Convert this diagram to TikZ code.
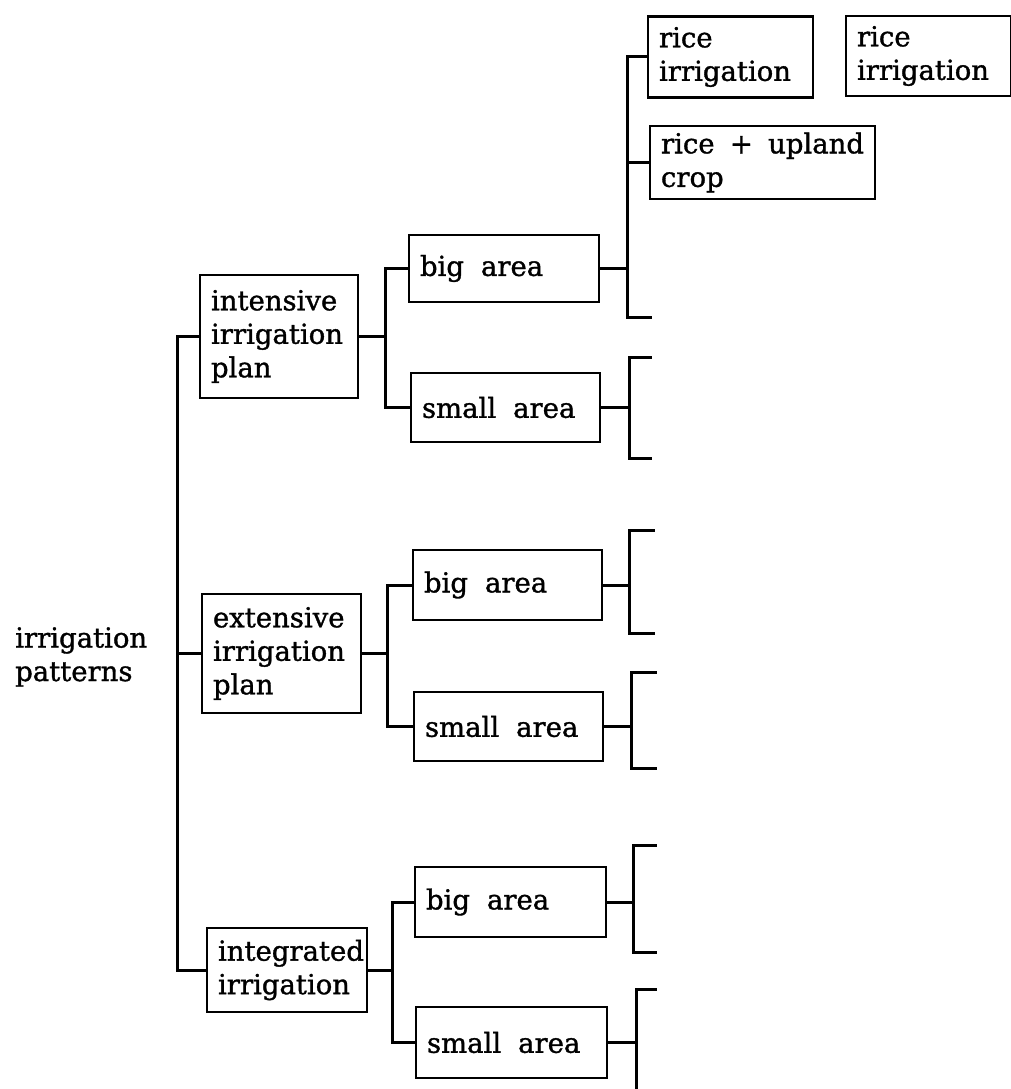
\documentclass[tikz,border=0pt]{standalone}
\usepackage{fontspec}
\setmainfont{DejaVu Serif}[FakeBold=1.2]
\newcommand\treefont{\fontsize{27.5}{33.5}\selectfont}
\begin{document}
\begin{tikzpicture}[x=1pt,y=-1pt,
  txt/.style={font=\treefont, execute at begin node={\spaceskip=17pt plus 2pt minus 2pt\relax}},
  box/.style={draw, line width=2.8pt, rectangle, inner xsep=11pt, inner ysep=0pt, align=left, txt},
  link/.style={line width=3pt, line cap=rect}]
\useasboundingbox (0,0) rectangle (1011,1089);

% root label
\node[txt, anchor=west, align=left, inner sep=0pt] (root) at (15,657) {irrigation\\patterns};

% level 1
\node[box, text width=136pt, minimum height=123pt] (intensive) at (279,336.5) {intensive\\irrigation\\plan};
\node[box, text width=137pt, minimum height=119pt] (extensive) at (281.5,653.5) {extensive\\irrigation\\plan};
\node[box, text width=138pt, minimum height=84pt] (integrated) at (287,970) {integrated\\irrigation};

% level 2
\node[box, text width=168pt, minimum height=67pt] (big1) at (504,268.5) {big area};
\node[box, text width=167pt, minimum height=69pt] (small1) at (505.5,407.5) {small area};
\node[box, text width=167pt, minimum height=70pt] (big2) at (507.5,585) {big area};
\node[box, text width=167pt, minimum height=69pt] (small2) at (508.5,726.5) {small area};
\node[box, text width=169pt, minimum height=70pt] (big3) at (510.5,902) {big area};
\node[box, text width=169pt, minimum height=71pt] (small3) at (511.5,1042.5) {small area};

% level 3
\node[box, text width=143pt, minimum height=81pt] (rice1) at (730.5,57) {rice\\irrigation};
\node[box, text width=143pt, minimum height=80pt] (rice2) at (928.5,56) {rice\\irrigation};
\node[box, text width=203pt, minimum height=73pt] (upland) at (762.5,162.5) {rice + upland\\crop};

% junction columns
\coordinate (trunk) at (177,0);
\coordinate (j1) at (385,0);
\coordinate (j2) at (387,0);
\coordinate (j3) at (392,0);
\coordinate (b1x) at (627,0);
\coordinate (s1x) at (629,0);
\coordinate (b2x) at (629,0);
\coordinate (s2x) at (631,0);
\coordinate (b3x) at (633,0);
\coordinate (s3x) at (636,0);

% free stub ends
\coordinate (b1b) at (650,317);
\coordinate (s1t) at (650,357);
\coordinate (s1b) at (650,458);
\coordinate (b2t) at (653,530);
\coordinate (b2b) at (653,633);
\coordinate (s2t) at (655,672);
\coordinate (s2b) at (655,768);
\coordinate (b3t) at (655,845);
\coordinate (b3b) at (655,952);
\coordinate (s3t) at (655,989);
\coordinate (s3b) at (636,1089);

% trunk
\draw[link] (intensive.west) -- (intensive.west -| trunk) -- (integrated.west -| trunk) -- (integrated.west);
\draw[link] (extensive.west) -- (extensive.west -| trunk);

% level 1 -> level 2
\draw[link] (intensive.east) -- (intensive.east -| j1);
\draw[link] (big1.west) -- (big1.west -| j1) -- (small1.west -| j1) -- (small1.west);
\draw[link] (extensive.east) -- (extensive.east -| j2);
\draw[link] (big2.west) -- (big2.west -| j2) -- (small2.west -| j2) -- (small2.west);
\draw[link] (integrated.east) -- (integrated.east -| j3);
\draw[link] (big3.west) -- (big3.west -| j3) -- (small3.west -| j3) -- (small3.west);

% level 2 -> brackets
\draw[link] (big1.east) -- (big1.east -| b1x);
\draw[link] (rice1.west) -- (rice1.west -| b1x) -- (b1b -| b1x) -- (b1b);
\draw[link] (upland.west) -- (upland.west -| b1x);

\draw[link] (small1.east) -- (small1.east -| s1x);
\draw[link] (s1t) -- (s1t -| s1x) -- (s1b -| s1x) -- (s1b);

\draw[link] (big2.east) -- (big2.east -| b2x);
\draw[link] (b2t) -- (b2t -| b2x) -- (b2b -| b2x) -- (b2b);

\draw[link] (small2.east) -- (small2.east -| s2x);
\draw[link] (s2t) -- (s2t -| s2x) -- (s2b -| s2x) -- (s2b);

\draw[link] (big3.east) -- (big3.east -| b3x);
\draw[link] (b3t) -- (b3t -| b3x) -- (b3b -| b3x) -- (b3b);

\draw[link] (small3.east) -- (small3.east -| s3x);
\draw[link] (s3t) -- (s3t -| s3x) -- (s3b);
\end{tikzpicture}
\end{document}
